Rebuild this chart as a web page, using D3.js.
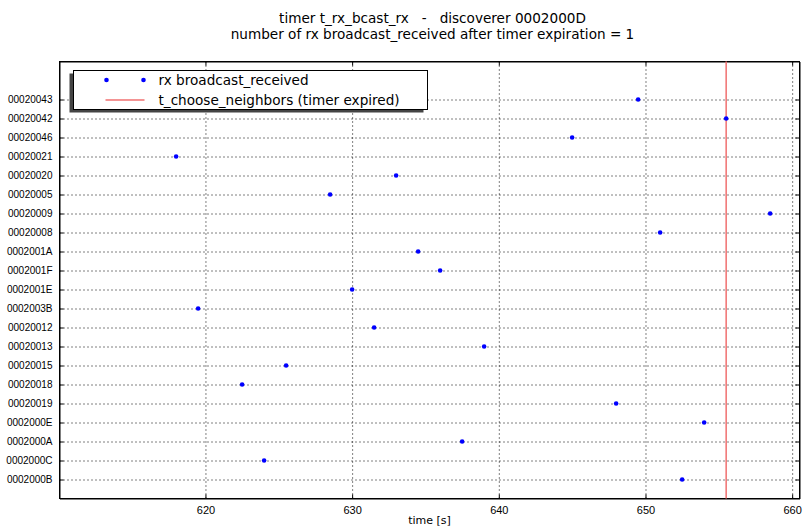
<!DOCTYPE html>
<html>
<head>
<meta charset="utf-8">
<script src="https://cdn.jsdelivr.net/npm/d3@7"></script>
<style>
  body { margin: 0; background: #fff; }
  svg { font-family: "DejaVu Sans", sans-serif; display: block; }
  text { white-space: pre; }
</style>
</head>
<body>
<div class="canvas"></div>
<script>
// receivers, top to bottom as in the plot
const nodes = ['00020043', '00020042', '00020046', '00020021', '00020020', '00020005', '00020009',
  '00020008', '0002001A', '0002001F', '0002001E', '0002003B', '00020012', '00020013',
  '00020015', '00020018', '00020019', '0002000E', '0002000A', '0002000C', '0002000B'];
// time [s] each broadcast was received
const rxTimes = [649.5, 655.5, 645.0, 618.0, 633.0, 628.5, 658.5,
  651.0, 634.5, 636.0, 630.0, 619.5, 631.5, 639.0,
  625.5, 622.5, 648.0, 654.0, 637.5, 624.0, 652.5];
const timerExpired = 655.5;
const xTicks = [620, 630, 640, 650, 660];
const titleLines = ['timer t_rx_bcast_rx   -   discoverer 0002000D',
  'number of rx broadcast_received after timer expiration = 1'];

const width = 805, height = 529;
const margin = { top: 61.5, right: 5.5, bottom: 30.5, left: 59.5 };
const graphWidth = width - margin.left - margin.right;
const graphHeight = height - margin.top - margin.bottom;

const svg = d3.select('.canvas').append('svg')
  .attr('width', width)
  .attr('height', height);

const graph = svg.append('g')
  .attr('transform', `translate(${margin.left}, ${margin.top})`);

const x = d3.scaleLinear().domain([610.05, 660.5]).range([0, graphWidth]);
const y = d3.scaleLinear().domain([-1, nodes.length + 1]).range([graphHeight, 0]);
const rowOf = i => nodes.length - 1 - i;

// grid
const gridX = graph.append('g')
  .call(d3.axisBottom(x).tickValues(xTicks).tickSize(graphHeight).tickFormat(''));
const gridY = graph.append('g')
  .call(d3.axisLeft(y).tickValues(nodes.map((d, i) => rowOf(i))).tickSize(-graphWidth).tickFormat(''));
[gridX, gridY].forEach(g => {
  g.select('.domain').remove();
  g.selectAll('line').attr('stroke', '#000').attr('stroke-dasharray', '1,3');
});

// axes, ticks pointing inward on all sides
const xAxis = d3.axisBottom(x).tickValues(xTicks).tickSizeInner(-4).tickSizeOuter(0).tickPadding(8);
const yAxis = d3.axisLeft(y).tickValues(nodes.map((d, i) => rowOf(i)))
  .tickFormat(v => nodes[nodes.length - 1 - v]).tickSizeInner(-4).tickSizeOuter(0).tickPadding(7);

graph.append('g').attr('transform', `translate(0, ${graphHeight})`).call(xAxis)
  .call(g => g.selectAll('text').attr('font-size', 11).attr('fill', '#000'));
graph.append('g').call(yAxis)
  .call(g => g.selectAll('text').attr('font-size', 10).attr('fill', '#000'));
graph.append('g').call(d3.axisTop(x).tickValues(xTicks).tickSizeInner(-4).tickSizeOuter(0).tickFormat(''));
graph.append('g').attr('transform', `translate(${graphWidth}, 0)`)
  .call(d3.axisRight(y).tickValues(nodes.map((d, i) => rowOf(i))).tickSizeInner(-4).tickSizeOuter(0).tickFormat(''));

graph.append('rect')
  .attr('width', graphWidth).attr('height', graphHeight)
  .attr('fill', 'none').attr('stroke', '#000');

// timer expiration
graph.append('line')
  .attr('x1', x(timerExpired)).attr('x2', x(timerExpired))
  .attr('y1', 0).attr('y2', graphHeight)
  .attr('stroke', '#f07070').attr('stroke-width', 1.5);

// received broadcasts
graph.selectAll('circle.rx').data(rxTimes).enter().append('circle')
  .attr('class', 'rx')
  .attr('cx', d => x(d))
  .attr('cy', (d, i) => y(rowOf(i)))
  .attr('r', 2.3)
  .attr('fill', '#0000ff');

// legend
const legend = svg.append('g').attr('transform', 'translate(73.5, 70.5)');
legend.append('rect')
  .attr('x', -4).attr('y', 3).attr('width', 354).attr('height', 39)
  .attr('fill', '#444');
legend.append('rect')
  .attr('width', 354).attr('height', 39)
  .attr('fill', '#fff').attr('stroke', '#000');
legend.selectAll('circle').data([33, 70]).enter().append('circle')
  .attr('cx', d => d).attr('cy', 9.5).attr('r', 2.3).attr('fill', '#0000ff');
legend.append('line')
  .attr('x1', 32).attr('x2', 71).attr('y1', 29.5).attr('y2', 29.5)
  .attr('stroke', '#f07070').attr('stroke-width', 1.5);
legend.selectAll('text').data(['rx broadcast_received', 't_choose_neighbors (timer expired)'])
  .enter().append('text')
  .attr('x', 85).attr('y', (d, i) => 14 + i * 20)
  .attr('font-size', 13.6).text(d => d);

// title and label
svg.selectAll('text.title').data(titleLines).enter().append('text')
  .attr('class', 'title')
  .attr('x', margin.left + graphWidth / 2 + 3)
  .attr('y', (d, i) => 23 + i * 16)
  .attr('text-anchor', 'middle')
  .attr('font-size', 13.6)
  .text(d => d);

svg.append('text')
  .attr('x', margin.left + graphWidth / 2)
  .attr('y', 524)
  .attr('text-anchor', 'middle')
  .attr('font-size', 11)
  .text('time [s]');
</script>
</body>
</html>
